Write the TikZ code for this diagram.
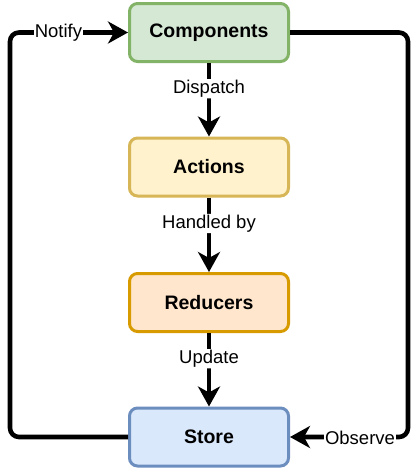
\documentclass[tikz,border=0pt]{standalone}
\usepackage{fontspec}
\setmainfont{Liberation Sans}
\usetikzlibrary{arrows.meta}
\definecolor{gfill}{HTML}{D5E8D4}\definecolor{gline}{HTML}{82B366}
\definecolor{yfill}{HTML}{FFF2CC}\definecolor{yline}{HTML}{D6B656}
\definecolor{ofill}{HTML}{FFE6CC}\definecolor{oline}{HTML}{D79B00}
\definecolor{bfill}{HTML}{DAE8FC}\definecolor{bline}{HTML}{6C8EBF}
\tikzset{
  box/.style={draw, line width=3pt, rounded corners=8pt, minimum width=159pt, minimum height=58pt, inner sep=0pt,
    font=\fontsize{19.5}{22}\selectfont\bfseries},
  conn/.style={line width=4.6pt, rounded corners=9pt, -{Stealth[length=20pt,width=22pt,inset=6pt]}},
  lbl/.style={fill=white, inner sep=1pt, font=\fontsize{18.5}{21}\selectfont}
}
\begin{document}
\begin{tikzpicture}[x=1pt,y=-1pt]
\useasboundingbox (0,0) rectangle (420,469);
\node[box, fill=gfill, draw=gline] (comp) at (209,32.5) {Components};
\node[box, fill=yfill, draw=yline] (act) at (209,167) {Actions};
\node[box, fill=ofill, draw=oline] (red) at (209,302.5) {Reducers};
\node[box, fill=bfill, draw=bline] (store) at (209,437) {Store};
\coordinate (lb) at (10,437);
\coordinate (lt) at (10,32.5);
\coordinate (rt) at (408,32.5);
\coordinate (rb) at (408,437);
\draw[conn] (comp.south) -- node[lbl, pos=0.35] {Dispatch} (act.north);
\draw[conn] (act.south) -- node[lbl, pos=0.35] {Handled by} (red.north);
\draw[conn] (red.south) -- node[lbl, pos=0.35] {Update} (store.north);
\draw[conn] (store.west) -- (lb) -- (lt) -- (comp.west);
\draw[conn] (comp.east) -- (rt) -- (rb) -- (store.east);
\node[lbl] (notify) at (58.5,32.5) {Notify};
\node[lbl] (observe) at (360,437.5) {Observe};
\end{tikzpicture}
\end{document}
